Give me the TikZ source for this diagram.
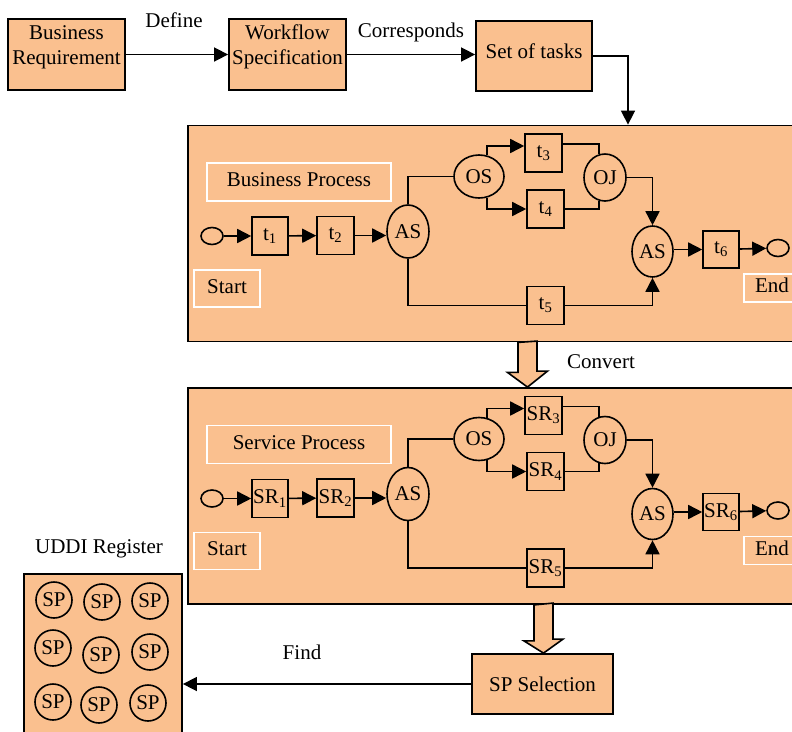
\documentclass[tikz,border=0pt]{standalone}
\usepackage{fontspec}
\setmainfont{Liberation Serif}
\usepackage{tikz}
\usetikzlibrary{arrows.meta,positioning,calc,shapes.geometric}
\definecolor{peach}{HTML}{FAC08F}

\begin{document}
\begin{tikzpicture}[
  x=1pt, y=-1pt,
  font=\fontsize{21}{25}\selectfont,
  box/.style={draw, fill=peach, line width=1.8pt, inner sep=0pt, align=center},
  task/.style={box, line width=1.6pt, minimum width=36pt, minimum height=38pt},
  gate/.style={draw, ellipse, line width=1.6pt, inner sep=0pt},
  dot/.style={draw, ellipse, line width=1.6pt, minimum width=22pt, minimum height=17pt, inner sep=0pt},
  tag/.style={draw=white, line width=1.5pt, inner sep=0pt, text height=15pt, text depth=6pt},
  spc/.style={draw, circle, line width=1.6pt, minimum size=36pt, inner sep=0pt},
  ln/.style={line width=1.6pt},
  arr/.style={ln, -{Triangle[length=14pt, width=14pt]}},
  fat/.style={draw, fill=peach, line width=1.6pt, line join=miter}
]
\useasboundingbox (0,0) rectangle (792,731);
\clip (0,0) rectangle (792,731);
% top row
\node[box, minimum width=117pt, minimum height=71pt, text height=40pt, text depth=21pt] (req) at (66.5,54.5) {Business\\Requirement};
\node[box, minimum width=117pt, minimum height=71pt, text height=40pt, text depth=21pt] (spec) at (287.5,54.5) {Workflow\\Specification};
\node[box, minimum width=116pt, minimum height=70pt, text height=15pt, text depth=11pt] (tasks) at (534,56) {Set of tasks};
\node (def) at (174,20.5) {Define};
\node (corr) at (411,32) {Corresponds};
\draw[arr] (req) -- (spec);
\draw[arr] (spec) -- (spec -| tasks.west);
% the two process boxes
\foreach \rw/\oy/\tl/\ttl in {bus/0/t/Business Process, srv/262.5/SR/Service Process} {
  \begin{scope}[shift={(0,\oy)}]
    \node[box, minimum width=612pt, minimum height=216pt] (\rw) at (494,233.5) {};
    \node[tag, minimum width=184pt, minimum height=38pt] (\rw-title) at (299,182) {\ttl};
    \node[tag, minimum width=66pt, minimum height=37pt] (\rw-start) at (227,288.5) {Start};
    \node[tag, minimum width=56pt, minimum height=28pt] (\rw-end) at (772,288) {End};
    \node[dot] (\rw-in) at (212,236) {};
    \node[task] (\rw-1) at (270,236) {\tl\textsubscript{1}};
    \node[task, minimum width=37pt] (\rw-2) at (335.5,235.5) {\tl\textsubscript{2}};
    \node[gate, minimum width=42pt, minimum height=53pt] (\rw-as) at (408,231.5) {AS};
    \node[gate, minimum width=50pt, minimum height=43pt] (\rw-os) at (479,176.5) {OS};
    \node[task, minimum width=37pt] (\rw-3) at (543.5,153) {\tl\textsubscript{3}};
    \node[task, minimum width=37pt] (\rw-4) at (545.5,209) {\tl\textsubscript{4}};
    \node[gate, minimum width=42pt, minimum height=47pt] (\rw-oj) at (605,177.5) {OJ};
    \node[task, minimum width=37pt] (\rw-5) at (545.5,305.5) {\tl\textsubscript{5}};
    \node[gate, minimum width=41pt, minimum height=51pt] (\rw-as2) at (652.5,251.5) {AS};
    \node[task, minimum height=37pt] (\rw-6) at (721,249.5) {\tl\textsubscript{6}};
    \node[dot] (\rw-out) at (778,248) {};
    \draw[arr] (\rw-in) -- (\rw-1);
    \draw[arr] (\rw-1) -- (\rw-2);
    \draw[arr] (\rw-2) -- (\rw-2 -| \rw-as.west);
    \draw[ln] (\rw-as.north) |- (\rw-os.west);
    \draw[ln] (\rw-as.south) |- (\rw-5.west);
    \draw[arr] (\rw-os.70) |- ([yshift=7pt]\rw-3.west);
    \draw[arr] (\rw-os.-70) |- (\rw-4.west);
    \draw[ln] ([yshift=9pt]\rw-3.east) -| (\rw-oj.105);
    \draw[ln] (\rw-4.east) -| (\rw-oj.-105);
    \draw[arr] (\rw-oj.east) -| (\rw-as2.north);
    \draw[arr] (\rw-5.east) -| (\rw-as2.south);
    \draw[arr] (\rw-6.west -| \rw-as2.east) -- (\rw-6.west);
    \draw[arr] (\rw-6) -- (\rw-out);
  \end{scope}
}
\coordinate (k) at (628,0);
\draw[arr] (tasks.east) -| (k |- bus.north);
% block arrows
\coordinate (cv) at (527.5,0);
\draw[fat] (cv |- bus.south) ++(-9.5,0) -- ++(0,30) -- ++(-10.5,0) -- (cv |- srv.north) -- ++(20,-16) -- ++(-10.5,0) -- ++(0,-30) -- cycle;
\node (conv) at (601,362) {Convert};
\node[box, minimum width=141pt, minimum height=60pt] (sel) at (542.5,684) {SP Selection};
\coordinate (sl) at (543.5,0);
\draw[fat] (sl |- srv.south) ++(-9.5,0) -- ++(0,36) -- ++(-10,0) -- (sl |- sel.north) -- ++(19.5,-14) -- ++(-10,0) -- ++(0,-36) -- cycle;
% registry
\node[box, minimum width=158pt, minimum height=170pt, anchor=north] (uddi) at (103,573) {};
\node (reg) at (99,549) {UDDI Register};
\foreach \n/\x/\y in {1/54/600, 2/102/602, 3/150/601, 4/53/648, 5/101/655, 6/150/652, 7/53/702, 8/99/705, 9/148/703}
  \node[spc] (sp\n) at (\x,\y) {SP};
\node (find) at (302,652) {Find};
\draw[arr] (sel.west) -- (sel.west -| uddi.east);
\end{tikzpicture}
\end{document}
